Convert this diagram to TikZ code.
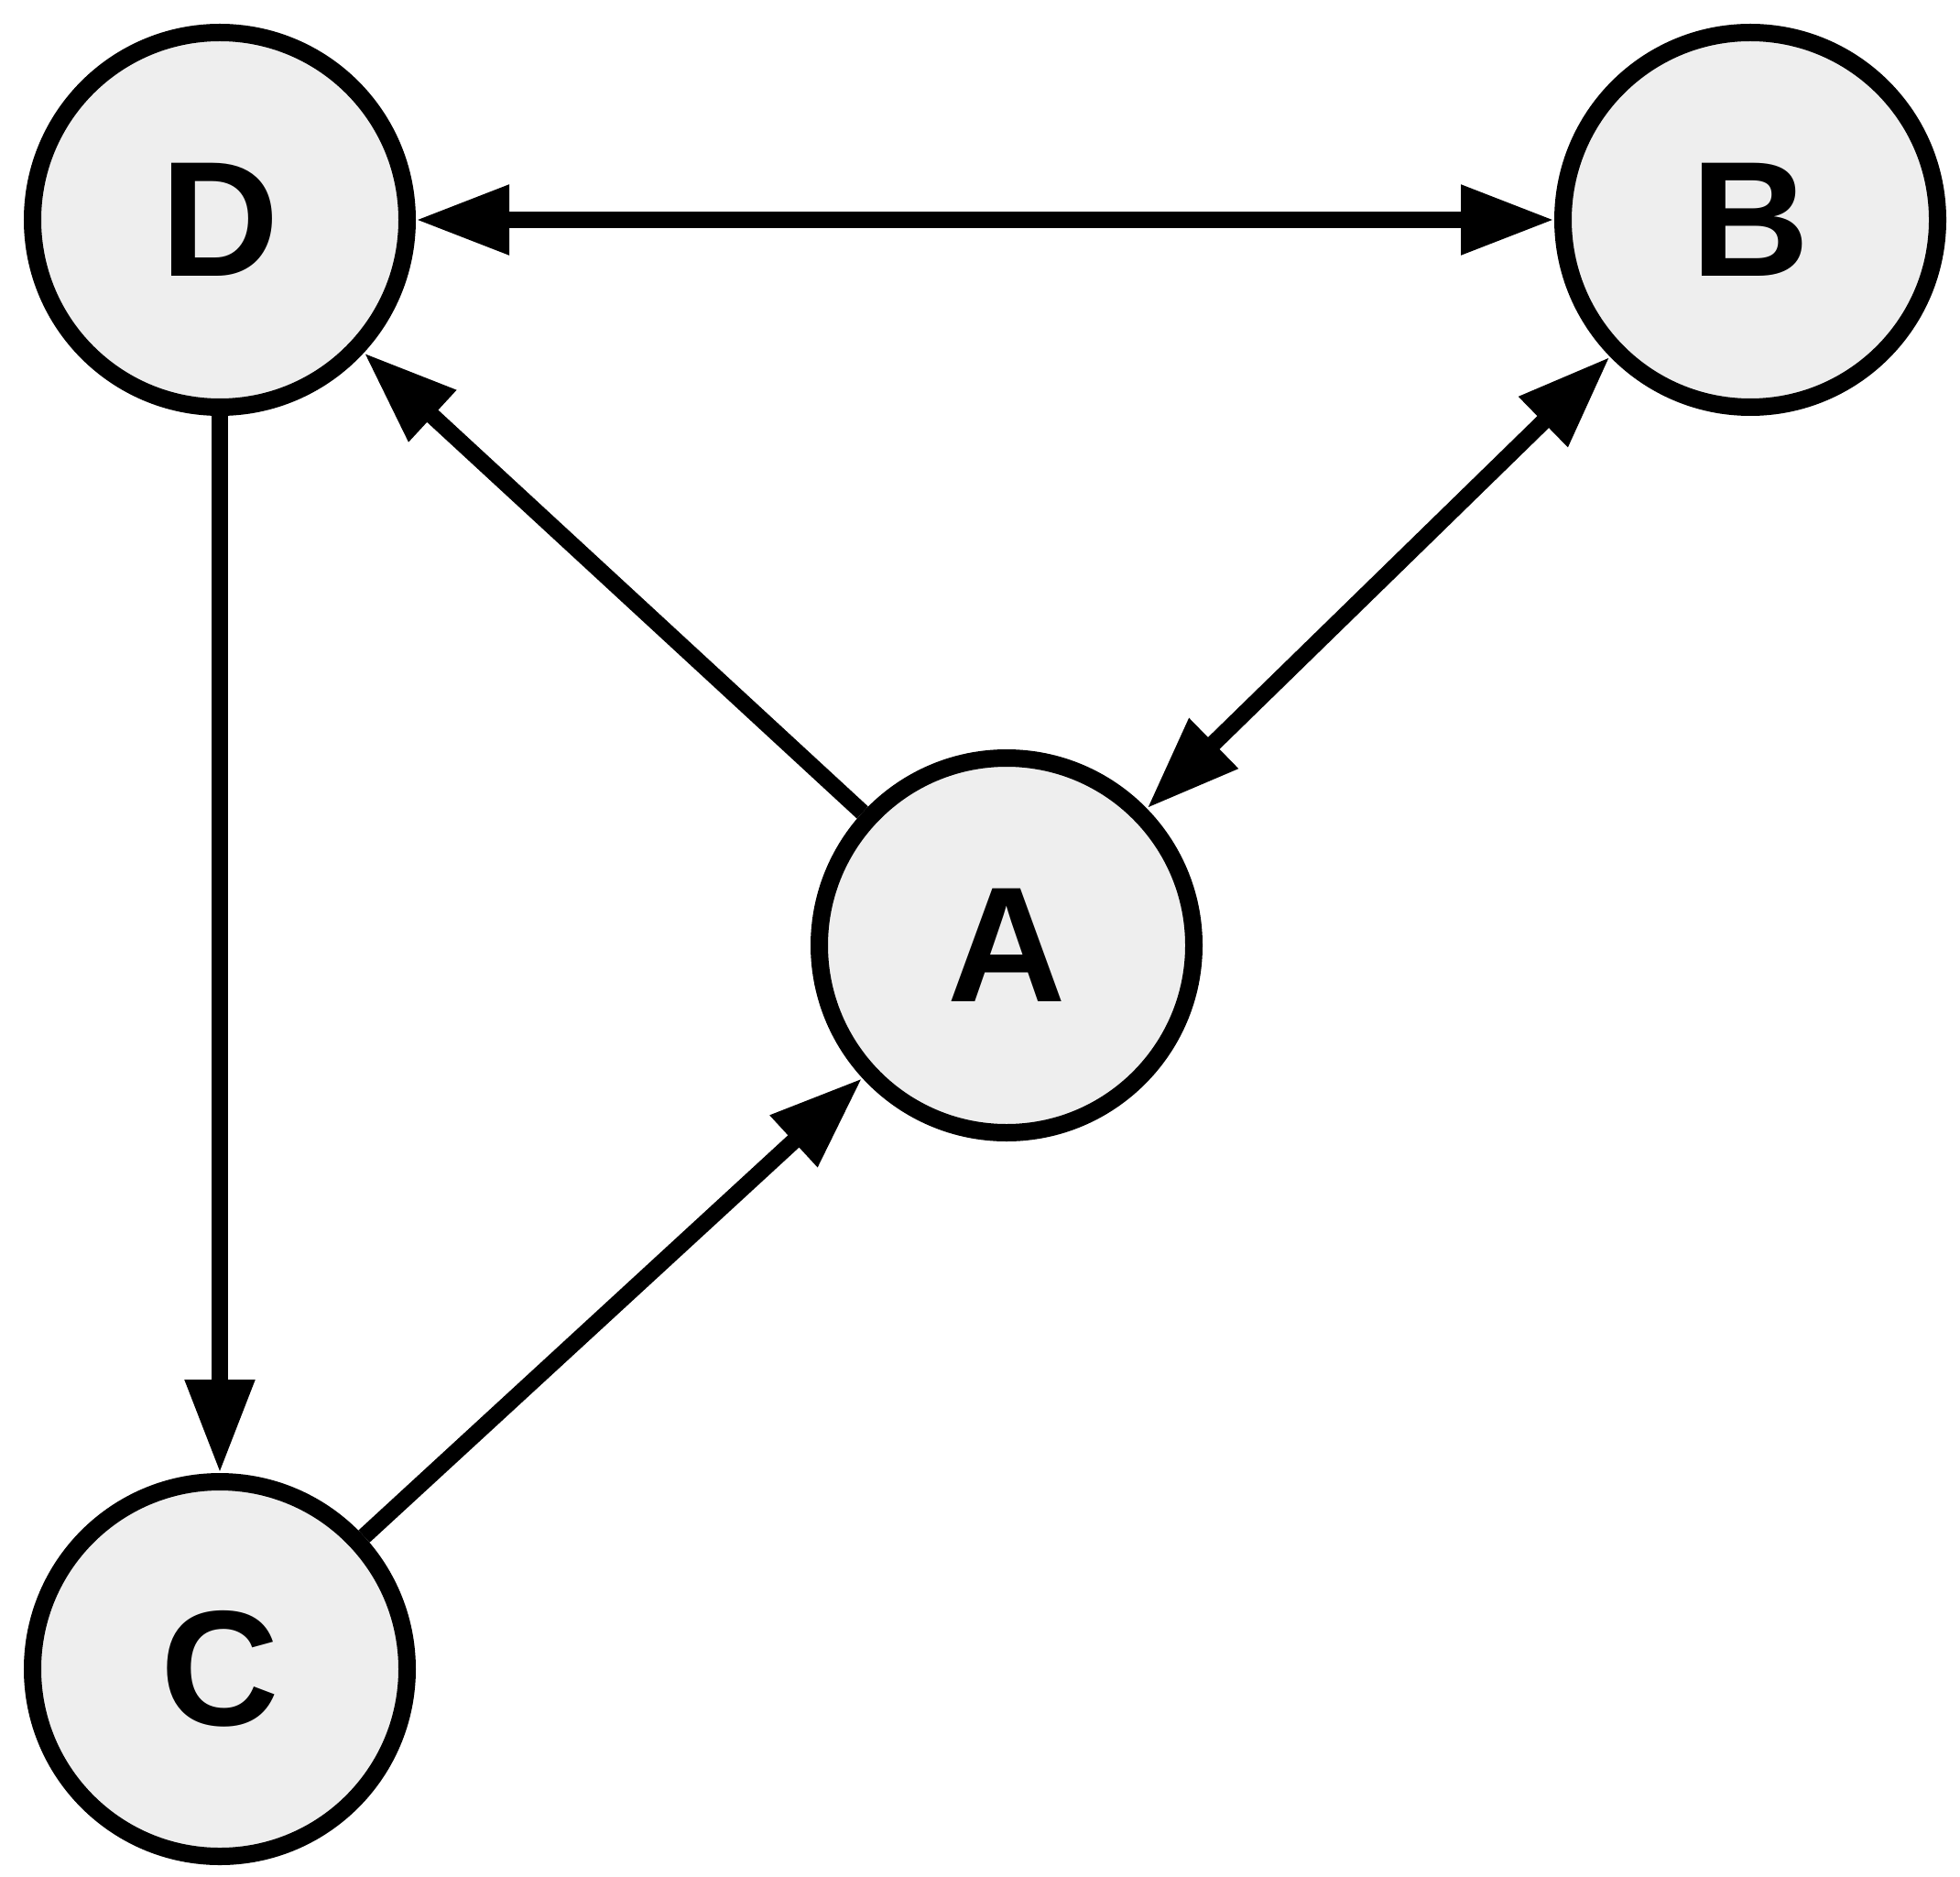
\documentclass[tikz,border=0pt]{standalone}
\usepackage{fontspec}
\setsansfont{Liberation Sans}
\usetikzlibrary{arrows.meta}
\newcommand{\arw}{-{Triangle[length=1.02cm,width=.72cm]}}
\newcommand{\darw}{{Triangle[length=1.02cm,width=.72cm]}-{Triangle[length=1.02cm,width=.72cm]}}
\tikzset{vertex/.style={circle,draw,line width=.19cm,fill={rgb,255:red,238;green,238;blue,238},
  minimum size=4.09cm,inner sep=0pt,font=\sffamily\bfseries\fontsize{51}{60}\selectfont}}

\begin{document}
\begin{tikzpicture}[x=1cm,y=1cm,line width=.18cm]
\useasboundingbox[fill=white] (0,0) rectangle (21.4,20.48);
%vertices
\node[vertex] (D) at ( 2.40,18.08) {D};
\node[vertex] (B) at (19.11,18.08) {B};
\node[vertex] (A) at (10.99,10.16) {A};
\node[vertex] (C) at ( 2.40, 2.26) {C};
%edges
\draw[\darw] (D) -- (B);
\draw[\darw] (B) -- (A);
\draw[\arw] (A) -- (D);
\draw[\arw] (D) -- (C);
\draw[\arw] (C) -- (A);
\end{tikzpicture}
\end{document}
